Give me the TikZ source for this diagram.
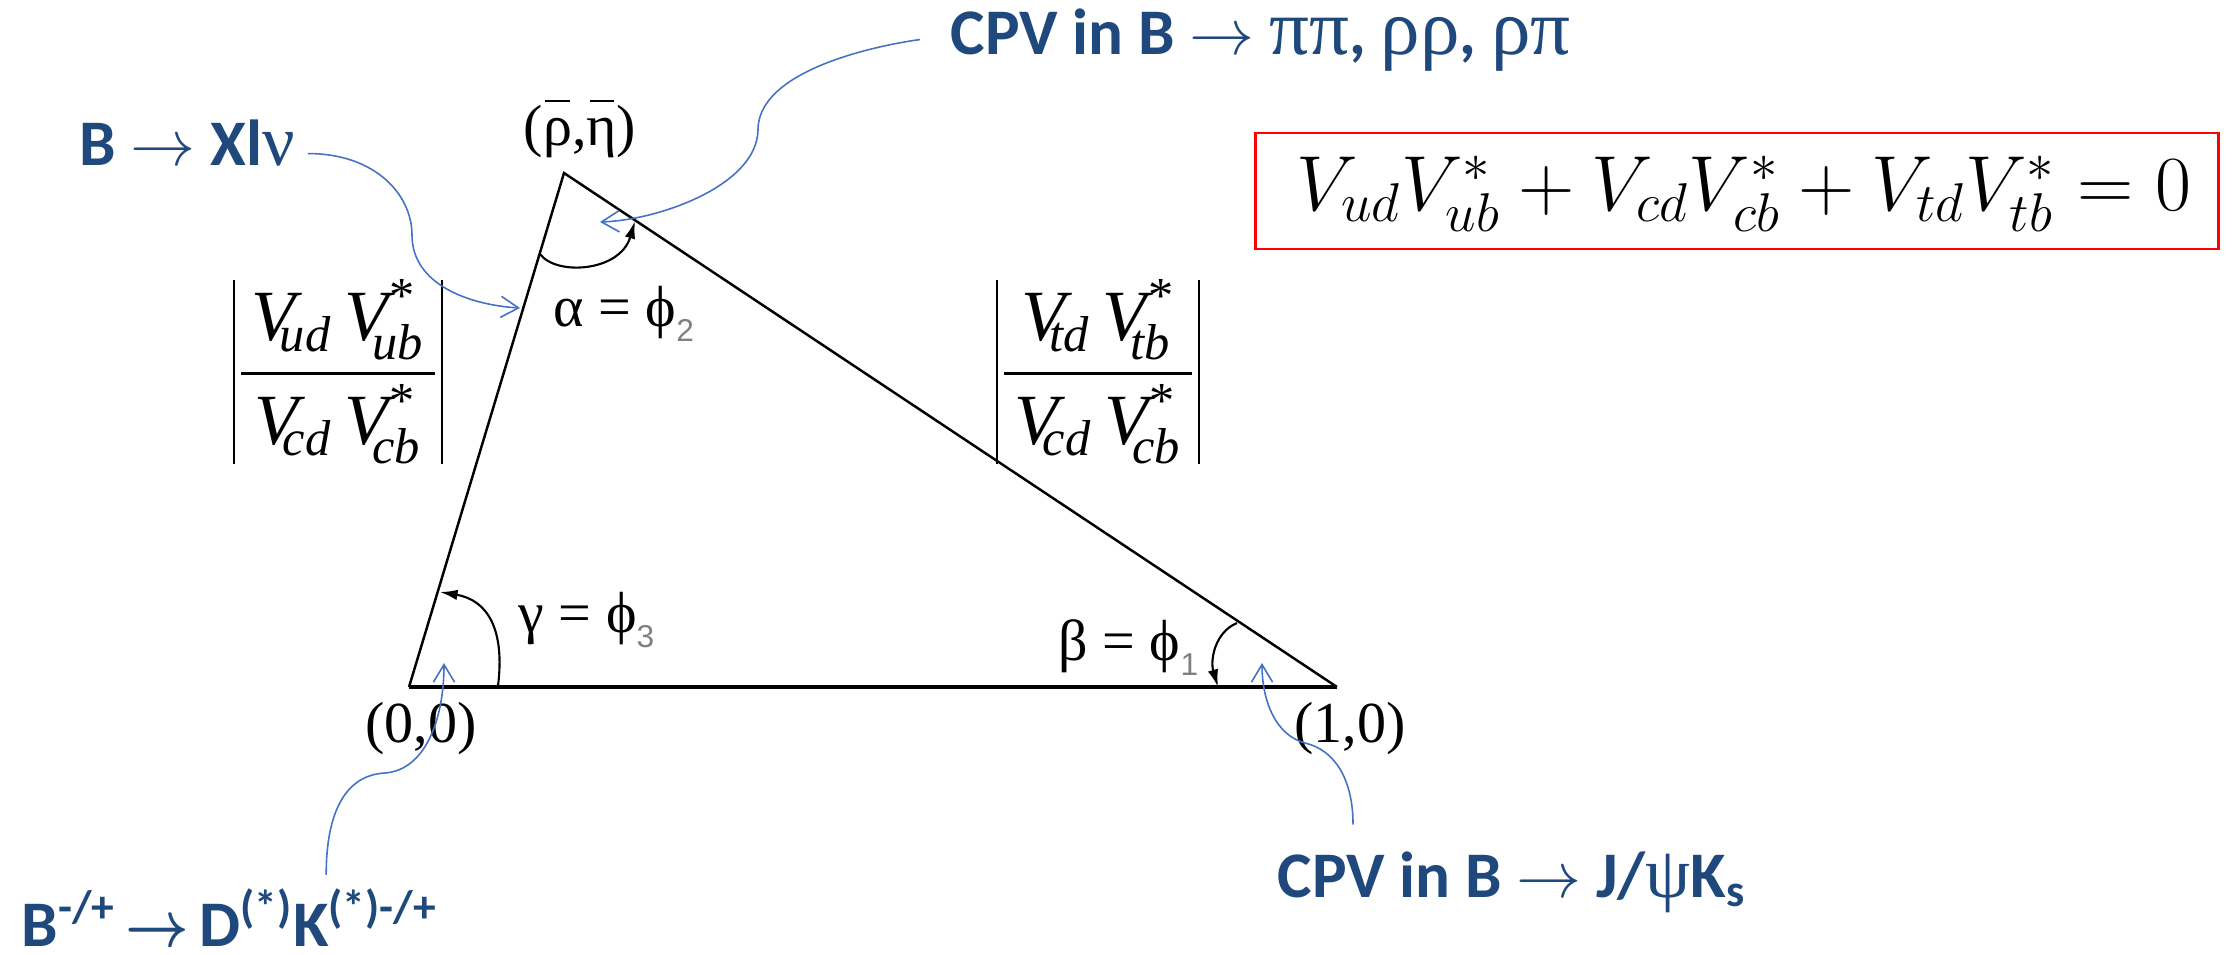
\RequirePackage{fix-cm}
\documentclass[tikz,border=0pt]{standalone}
\usepackage{amsmath}
\usepackage{graphicx}
\usepackage{fontspec}
\setsansfont{Carlito}
\newfontfamily\tms{Liberation Serif}
\newfontfamily\arl{Liberation Sans}
\usetikzlibrary{arrows.meta}
\definecolor{noteText}{HTML}{1F497D}
\definecolor{noteLine}{HTML}{4472C4}
\definecolor{boxLine}{HTML}{FF0000}
\definecolor{subGray}{HTML}{808080}

\newcommand{\gk}[1]{{\tms\mdseries\fontsize{20.5}{24}\selectfont #1}}
\newcommand{\gkl}[1]{{\tms\mdseries\fontsize{22.5}{26}\selectfont #1}}
\newcommand{\goesto}{$\rightarrow$}
\newcommand{\phisub}[1]{\raisebox{-4.5pt}{\arl\color{subGray}\fontsize{9}{10}\selectfont #1}}
\newcommand{\ovbar}[1]{\ooalign{#1\cr\hidewidth\rule[0.74em]{0.42em}{0.04em}\hidewidth\cr}}
\newcommand{\tvar}[1]{\text{\tms\itshape #1}}
\newcommand{\ckm}[1]{\tvar{V}_{\kern-4.5pt\tvar{#1}}}
\newcommand{\ckms}[1]{\tvar{V}^{\kern0.5pt\text{\tms *}}_{\kern-4.5pt\tvar{#1}}}
\newcommand{\absfrac}[2]{\hbox{\vrule width 0.7pt\kern1.6pt
  \vbox{\halign{\hfil\kern3pt$##$\kern3pt\hfil\cr #1\cr
    \noalign{\kern3.5pt\hrule height 0.8pt\kern2.5pt}#2\cr}}%
  \kern1.6pt\vrule width 0.7pt}}

\begin{document}
\begin{tikzpicture}[
  x=0.01cm, y=-0.01cm,
  side/.style={line width=0.7pt, line join=miter},
  baseside/.style={line width=1pt},
  angarc/.style={line width=0.6pt, -{Latex[length=5pt,width=3pt]}},
  coord/.style={font=\tms\fontsize{16.5}{18}\selectfont, inner sep=0pt, anchor=base},
  anglab/.style={coord, anchor=base west},
  ratio/.style={inner sep=0pt, font=\tms\fontsize{20.5}{24}\selectfont},
  note/.style={font=\sffamily\bfseries\fontsize{18.5}{22}\selectfont,
    text=noteText, inner sep=0pt, anchor=base west},
  pointer/.style={draw=noteLine, line width=0.45pt,
    -{Straight Barb[length=5pt,width=6pt]}},
  eqbox/.style={draw=boxLine, line width=0.75pt, inner sep=0pt,
    minimum width=9.63cm, minimum height=1.16cm}
]
\useasboundingbox (0,0) rectangle (2233,954);

%  Triangle 
\coordinate (O) at (409,687);
\coordinate (A) at (564,173);
\coordinate (P) at (1337,687);
\draw[side] (O) -- (A) -- (P);
\draw[baseside] (O) -- (P);

%  Angle arcs 
\draw[angarc] (540,254) .. controls (556,276) and (620,272) .. (635,221);
\draw[angarc] (498,686) .. controls (505,630) and (488,600) .. (440,592);
\draw[angarc] (1237,623) .. controls (1215,632) and (1210,660) .. (1218,687);

%  Corner and angle labels 
\node[coord] (rhoeta) at (580,145) {(\ovbar{ρ},\ovbar{η})};
\node[coord] (orig) at (421,742) {(0,0)};
\node[coord] (unit) at (1350,742) {(1,0)};
\node[anglab] (alab) at (553,326) {α = ϕ\phisub{2}};
\node[anglab] (glab) at (518,632) {γ = ϕ\phisub{3}};
\node[anglab] (blab) at (1058,660) {β = ϕ\phisub{1}};

%  Side lengths 
\node[ratio] (lside) at (338,372)
  {\absfrac{\ckm{ud}\,\ckms{ub}}{\ckm{cd}\,\ckms{cb}}};
\node[ratio] (rside) at (1098,372)
  {\absfrac{\ckm{td}\,\ckms{tb}}{\ckm{cd}\,\ckms{cb}}};

%  Unitarity relation 
\node[eqbox] (sumbox) at (1737,191) {};
\node[anchor=base, inner sep=0pt, font=\fontsize{22.2}{26}\selectfont] (sum) at (1744,210)
  {$V_{ud}V^*_{ub}+V_{cd}V^*_{cb}+V_{td}V^*_{tb}=0$};

%  Measurements 
\node[note] (cpvpp) at (950,54) {CPV in B \goesto{} \gkl{ππ}, \gkl{ρρ}, \gkl{ρπ}};
\node[note] (xlnu) at (79,165) {B \goesto{} Xl\gk{ν}};
\node[note] (dkpm) at (21,946)
  {B\textsuperscript{-/+}\hspace{0.15em}\scalebox{0.85}[1]{$\boldsymbol{\rightarrow}$}\hspace{0.15em}D\textsuperscript{(*)}K\textsuperscript{(*)-/+}};
\node[note] (cpvjk) at (1277,897) {CPV in B \goesto{} J/\gk{ψ}K\textsubscript{s}};

%  Pointers 
\coordinate (tipa) at (600,222);
\coordinate (tipl) at (520,308);
\coordinate (tipg) at (444,663);
\coordinate (tipb) at (1262,663);
\draw[pointer] ([xshift=-0.3cm]cpvpp.west) .. controls +(-1.0,0) and (758,60) .. (758,130)
  .. controls (757,185) and (660,220) .. (tipa);
\draw[pointer] ([xshift=0.12cm,yshift=-0.11cm]xlnu.east) .. controls +(68,0) and (412,195) .. (412,235)
  .. controls (412,285) and (470,305) .. (tipl);
\draw[pointer] ([xshift=3.05cm,yshift=0.13cm]dkpm.north west) .. controls +(0,-62) and (345,775) .. (385,773)
  .. controls (425,770) and (444,720) .. (tipg);
\draw[pointer] ([xshift=0.76cm,yshift=0.26cm]cpvjk.north west) .. controls +(0,-45) and (1335,750) .. (1305,743)
  .. controls (1275,735) and (1262,700) .. (tipb);

\end{tikzpicture}
\end{document}
